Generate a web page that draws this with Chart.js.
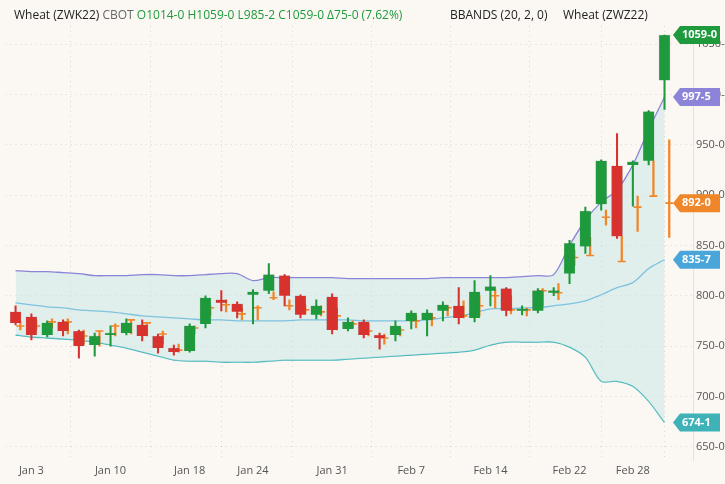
<!DOCTYPE html>
<html><head><meta charset="utf-8">
<script src="https://cdn.jsdelivr.net/npm/chart.js@4"></script>
<style>html,body{margin:0;padding:0;background:#fbf8f3}#w{width:725px;height:484px}</style>
</head><body><div id="w"><canvas id="c"></canvas></div>
<script>
const dates=['Dec 31','Jan 3','Jan 4','Jan 5','Jan 6','Jan 7','Jan 10','Jan 11','Jan 12','Jan 13','Jan 14','Jan 18','Jan 19','Jan 20','Jan 21','Jan 24','Jan 25','Jan 26','Jan 27','Jan 28','Jan 31','Feb 1','Feb 2','Feb 3','Feb 4','Feb 7','Feb 8','Feb 9','Feb 10','Feb 11','Feb 14','Feb 15','Feb 16','Feb 17','Feb 18','Feb 22','Feb 23','Feb 24','Feb 25','Feb 28','Mar 1','Mar 2'];
const labelDays=['Jan 3','Jan 10','Jan 18','Jan 24','Jan 31','Feb 7','Feb 14','Feb 22','Feb 28'];
const open =[784,779,761,774,765,751,761,763,771,760,748,745,772,796,792,801,805,820,800,781,799,767,774,761,761,775,776,785,790,778,805,807,785,785,803,822,849,891,929,930,934,1014];
const high =[790,782,775,776,766,763,770,777,776,762,751,772,800,805,794,806,832,821,801,796,802,778,776,763,775,785,786,794,808,815,820,808,790,807,808,855,888,935,961,934,984,1059];
const low  =[771,756,759,760,738,740,750,761,755,743,741,744,768,785,778,772,802,790,778,777,762,765,758,747,755,767,760,775,772,774,790,780,781,783,800,812,842,885,857,889,930,985];
const close=[773,761,773,765,750,760,763,773,760,748,744,770,798,793,784,804,821,800,781,790,766,774,761,758,770,783,783,791,778,804,809,785,787,805,805,852,884,934,859,933,983,1059];
const zHigh =[774,776,777,777,766,765,772,776,773,765,752,770,790,796,788,790,804,796,791,790,788,775,772,762,768,780,782,790,795,800,806,800,788,807,812,845,858,885,859,899,934,955];
const zLow  =[766,766,768,762,752,750,760,762,760,752,744,762,780,784,776,776,796,786,782,780,766,768,760,752,760,768,770,780,778,780,788,782,780,790,796,830,840,870,834,864,899,858];
const zClose=[770,770,774,774,760,765,770,776,773,762,746,768,788,791,782,788,798,790,786,784,780,772,765,758,766,775,778,788,780,790,800,786,786,805,803,838,840,878,834,888,899,892];
const bbUpper=[825,824,824,823,822,820,820,820,821,821,820,820,821,822,822,815,818,818,818,818,818,817,817,817,817,817,817,818,818,818,818,818,819,820,821,850,875,893,905,930,965,997.5];
const bbMid  =[793,791,789,788,786,785,784,782,780,779,778,777,776,776,775,775,775,775,776,776,776,776,775,775,775,775,776,778,780,783,787,787,788,788,790,792,795,801,808,813,827,835.7];
const bbLower=[761,759,758,757,756,754,751,748,744,740,736,735,735,734,734,734,735,736,736,736,736,737,738,739,740,741,742,743,744,746,751,754,754,754,754,749,739,715,715,710,695,674.1];

const G='#1e9a3c',R='#d8322f',OR='#f0862a',PU='#8c84d8',MB='#4aa6da',LB='#3fb2b8';
const idx=dates.map((d,i)=>i);
const col=idx.map(i=>close[i]>=open[i]?G:R);
const tagPlugin={id:'tags',afterDraw(ch){
  const c=ch.ctx,y=ch.scales.y,a=ch.chartArea;
  const L=close.length-1;
  const tags=[[close[L],G],[bbUpper[L],PU],[zClose[L],OR],[bbMid[L],MB],[bbLower[L],LB]];
  c.save();
  c.font='bold 11px "Open Sans",sans-serif';c.textBaseline='middle';
  tags.forEach(([v,cl])=>{const py=y.getPixelForValue(v),x0=a.right-20;
    c.fillStyle=cl;c.beginPath();c.moveTo(x0,py);c.lineTo(x0+7,py-9);c.lineTo(x0+47,py-9);c.lineTo(x0+47,py+9);c.lineTo(x0+7,py+9);c.closePath();c.fill();
    c.fillStyle='#fff';c.textAlign='left';c.fillText(v.toFixed(1).replace('.','-'),x0+9,py);});
  c.font='12px "Open Sans",sans-serif';c.textAlign='left';c.textBaseline='middle';
  let x=14;const parts=[['Wheat (ZWK22) ','#222'],['CBOT ','#666'],['O1014-0 H1059-0 L985-2 C1059-0 \u039475-0 (7.62%)',G]];
  parts.forEach(([t,cl])=>{c.fillStyle=cl;c.fillText(t,x,16);x+=c.measureText(t).width;});
  c.fillStyle='#222';c.fillText('BBANDS (20, 2, 0)',450,16);c.fillText('Wheat (ZWZ22)',563,16);
  c.restore();}};
new Chart(document.getElementById('c'),{
  data:{datasets:[
    {type:'line',data:idx.map(i=>({x:i,y:bbUpper[i]})),borderColor:PU,borderWidth:1.3,pointRadius:0,fill:'+2',backgroundColor:'rgba(190,228,228,0.45)',tension:0.3,order:5},
    {type:'line',data:idx.map(i=>({x:i,y:bbMid[i]})),borderColor:MB,borderWidth:1.3,pointRadius:0,fill:false,tension:0.3,order:5},
    {type:'line',data:idx.map(i=>({x:i,y:bbLower[i]})),borderColor:LB,borderWidth:1.3,pointRadius:0,fill:false,tension:0.3,order:5},
    {type:'bar',data:idx.map(i=>({x:i+0.3,y:[zLow[i],zHigh[i]]})),backgroundColor:OR,barThickness:1.6,grouped:false,order:3},
    {type:'scatter',data:idx.map(i=>({x:i+0.3,y:zClose[i]})),pointStyle:'line',radius:4,borderColor:OR,borderWidth:1.6,order:2},
    {type:'bar',data:idx.map(i=>({x:i,y:[low[i],high[i]]})),backgroundColor:col,barThickness:1.4,grouped:false,order:1},
    {type:'bar',data:idx.map(i=>({x:i,y:[open[i],close[i]===open[i]?close[i]+1:close[i]]})),backgroundColor:col,borderColor:'rgba(0,0,0,0.25)',borderWidth:0.5,barThickness:11,grouped:false,order:0}
  ]},
  options:{responsive:true,maintainAspectRatio:false,animation:false,
    layout:{padding:{top:26,left:0,right:0,bottom:4}},
    plugins:{legend:{display:false},tooltip:{enabled:false}},
    scales:{
      x:{type:'linear',min:-0.63,max:42.8,offset:false,
        afterBuildTicks(ax){ax.ticks=labelDays.map(d=>({value:dates.indexOf(d)}));},
        ticks:{callback:v=>dates[v],color:'#555',font:{size:11,family:'"Open Sans",sans-serif'},maxRotation:0},
        grid:{color:'rgba(0,0,0,0.13)',drawTicks:false},border:{display:false,dash:[1,4]}},
      y:{position:'right',min:636,max:1068,
        afterFit(ax){ax.width=32;},
        afterBuildTicks(ax){ax.ticks=[650,700,750,800,850,900,950,1000,1050].map(v=>({value:v}));},
        ticks:{callback:v=>v+'-0',color:'#555',font:{size:11,family:'"Open Sans",sans-serif'},padding:3},
        grid:{color:'rgba(0,0,0,0.13)',drawTicks:false},border:{display:true,color:'#e2e2e2',dash:[1,4]}}
    }},
  plugins:[tagPlugin]
});
</script></body></html>
